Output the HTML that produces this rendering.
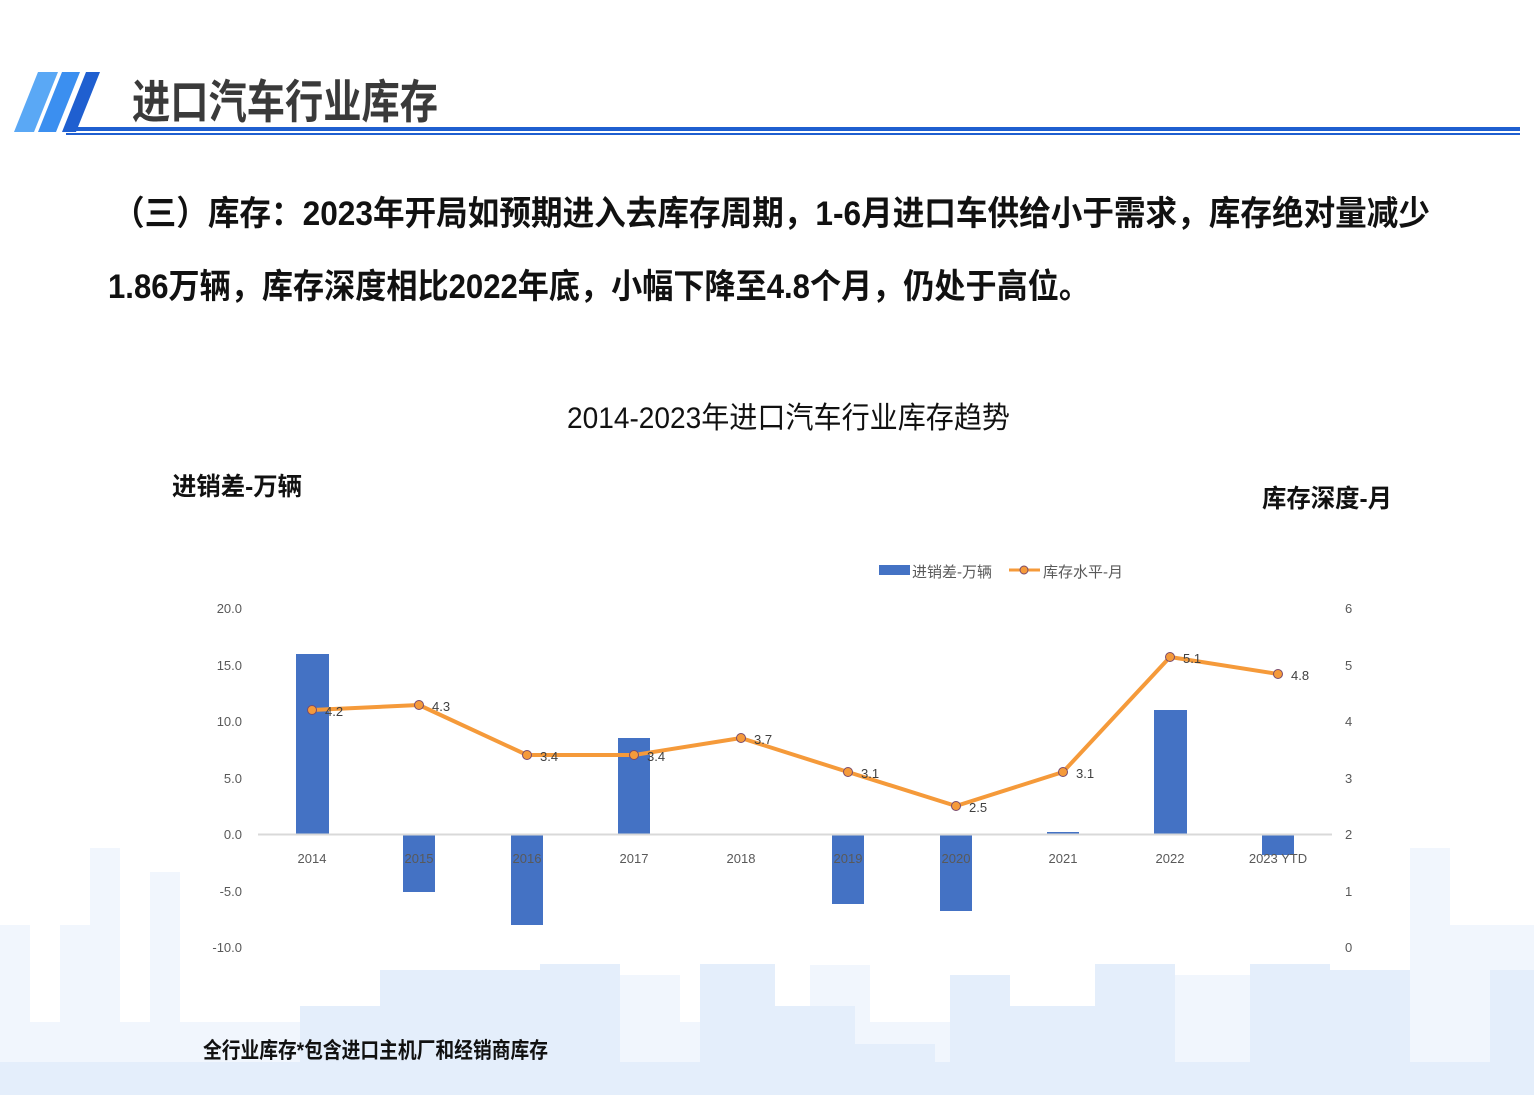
<!DOCTYPE html>
<html><head><meta charset="utf-8"><style>
html,body{margin:0;padding:0;background:#fff;}
svg{display:block;}
text{font-family:"Liberation Sans","Noto Sans CJK SC",sans-serif;}
</style></head><body>
<svg width="1534" height="1095" viewBox="0 0 1534 1095" xmlns="http://www.w3.org/2000/svg">
<defs>
<linearGradient id="g1" x1="0" y1="0" x2="1" y2="0"><stop offset="0" stop-color="#2f8bf0"/><stop offset="1" stop-color="#1f5fd0"/></linearGradient>
</defs>
<!-- skyline background -->
<g fill="#f1f6fd">
<rect x="0" y="925" width="30" height="170"/>
<rect x="60" y="925" width="60" height="170"/>
<rect x="90" y="848" width="30" height="247"/>
<rect x="150" y="872" width="30" height="223"/>
<rect x="30" y="1022" width="1504" height="73"/>
<rect x="1410" y="848" width="40" height="247"/>
<rect x="1450" y="925" width="84" height="170"/>
<rect x="620" y="975" width="60" height="120"/>
<rect x="810" y="965" width="60" height="130"/>
<rect x="1175" y="975" width="75" height="120"/>
</g>
<g fill="#e4eefb">
<rect x="380" y="970" width="160" height="125"/>
<rect x="300" y="1006" width="80" height="89"/>
<rect x="540" y="964" width="80" height="131"/>
<rect x="700" y="964" width="75" height="131"/>
<rect x="775" y="1006" width="80" height="89"/>
<rect x="855" y="1044" width="80" height="51"/>
<rect x="950" y="975" width="60" height="120"/>
<rect x="1010" y="1006" width="85" height="89"/>
<rect x="1095" y="964" width="80" height="131"/>
<rect x="1250" y="964" width="80" height="131"/>
<rect x="1330" y="970" width="80" height="125"/>
<rect x="1490" y="970" width="44" height="125"/>
<rect x="0" y="1062" width="1534" height="33"/>
</g>
<!-- header -->
<polygon points="14,132 38,72 58,72 34,132" fill="#5aa8f5"/>
<polygon points="38,132 62,72 80,72 56,132" fill="#3b8ff0"/>
<polygon points="62,132 86,72 100,72 76,132" fill="#1f5fd0"/>
<rect x="66" y="127" width="1454" height="4" fill="#1f5fd0"/>
<rect x="66" y="133" width="1454" height="2" fill="#1f5fd0"/>
<text x="132" y="118" font-size="46" font-weight="bold" fill="#3a3a3a" textLength="306" lengthAdjust="spacingAndGlyphs">进口汽车行业库存</text>
<text x="113" y="225" font-size="34" font-weight="bold" fill="#111" textLength="1317" lengthAdjust="spacingAndGlyphs">（三）库存：2023年开局如预期进入去库存周期，1-6月进口车供给小于需求，库存绝对量减少</text>
<text x="108" y="298" font-size="34" font-weight="bold" fill="#111" textLength="982" lengthAdjust="spacingAndGlyphs">1.86万辆，库存深度相比2022年底，小幅下降至4.8个月，仍处于高位。</text>
<text x="567" y="428" font-size="30" fill="#111" textLength="443" lengthAdjust="spacingAndGlyphs">2014-2023年进口汽车行业库存趋势</text>
<text x="172" y="495" font-size="25" font-weight="bold" fill="#111" textLength="130" lengthAdjust="spacingAndGlyphs">进销差-万辆</text>
<text x="1262" y="507" font-size="25" font-weight="bold" fill="#111" textLength="130" lengthAdjust="spacingAndGlyphs">库存深度-月</text>
<!-- legend -->
<rect x="879" y="565" width="31" height="10" fill="#4472c4"/>
<text x="912" y="577" font-size="15" fill="#595959">进销差-万辆</text>
<line x1="1009" y1="570" x2="1040" y2="570" stroke="#f59a3a" stroke-width="3"/>
<circle cx="1024" cy="570" r="4" fill="#f59a3a" stroke="#7a4a6a" stroke-width="1"/>
<text x="1043" y="577" font-size="15" fill="#595959">库存水平-月</text>
<!-- left axis -->
<g font-size="13" fill="#595959" text-anchor="end">
<text x="242" y="613">20.0</text>
<text x="242" y="670">15.0</text>
<text x="242" y="726">10.0</text>
<text x="242" y="783">5.0</text>
<text x="242" y="839">0.0</text>
<text x="242" y="896">-5.0</text>
<text x="242" y="952">-10.0</text>
</g>
<g font-size="13" fill="#595959">
<text x="1345" y="613">6</text>
<text x="1345" y="670">5</text>
<text x="1345" y="726">4</text>
<text x="1345" y="783">3</text>
<text x="1345" y="839">2</text>
<text x="1345" y="896">1</text>
<text x="1345" y="952">0</text>
</g>
<!-- bars -->
<g fill="#4472c4">
<rect x="296" y="654" width="33" height="180"/>
<rect x="403" y="835" width="32" height="57"/>
<rect x="511" y="835" width="32" height="90"/>
<rect x="618" y="738" width="32" height="96"/>
<rect x="832" y="835" width="32" height="69"/>
<rect x="940" y="835" width="32" height="76"/>
<rect x="1047" y="832" width="32" height="2"/>
<rect x="1154" y="710" width="33" height="124"/>
<rect x="1262" y="835" width="32" height="20"/>
</g>
<line x1="258" y1="834.5" x2="1332" y2="834.5" stroke="#d9d9d9" stroke-width="2"/>
<g font-size="13" fill="#595959" text-anchor="middle">
<text x="312" y="863">2014</text><text x="419" y="863">2015</text><text x="527" y="863">2016</text>
<text x="634" y="863">2017</text><text x="741" y="863">2018</text><text x="848" y="863">2019</text>
<text x="956" y="863">2020</text><text x="1063" y="863">2021</text><text x="1170" y="863">2022</text>
<text x="1278" y="863">2023 YTD</text>
</g>
<polyline points="312,710 419,705 527,755 634,755 741,738 848,772 956,806 1063,772 1170,657 1278,674" fill="none" stroke="#f59a3a" stroke-width="4" stroke-linejoin="round"/>
<g fill="#f59a3a" stroke="#7a4a6a" stroke-width="1">
<circle cx="312" cy="710" r="4.5"/><circle cx="419" cy="705" r="4.5"/><circle cx="527" cy="755" r="4.5"/>
<circle cx="634" cy="755" r="4.5"/><circle cx="741" cy="738" r="4.5"/><circle cx="848" cy="772" r="4.5"/>
<circle cx="956" cy="806" r="4.5"/><circle cx="1063" cy="772" r="4.5"/><circle cx="1170" cy="657" r="4.5"/>
<circle cx="1278" cy="674" r="4.5"/>
</g>
<g font-size="13" fill="#404040">
<text x="325" y="716">4.2</text><text x="432" y="711">4.3</text><text x="540" y="761">3.4</text>
<text x="647" y="761">3.4</text><text x="754" y="744">3.7</text><text x="861" y="778">3.1</text>
<text x="969" y="812">2.5</text><text x="1076" y="778">3.1</text><text x="1183" y="663">5.1</text>
<text x="1291" y="680">4.8</text>
</g>
<text x="203" y="1058" font-size="22" font-weight="bold" fill="#111" textLength="345" lengthAdjust="spacingAndGlyphs">全行业库存*包含进口主机厂和经销商库存</text>
</svg>
</body></html>
